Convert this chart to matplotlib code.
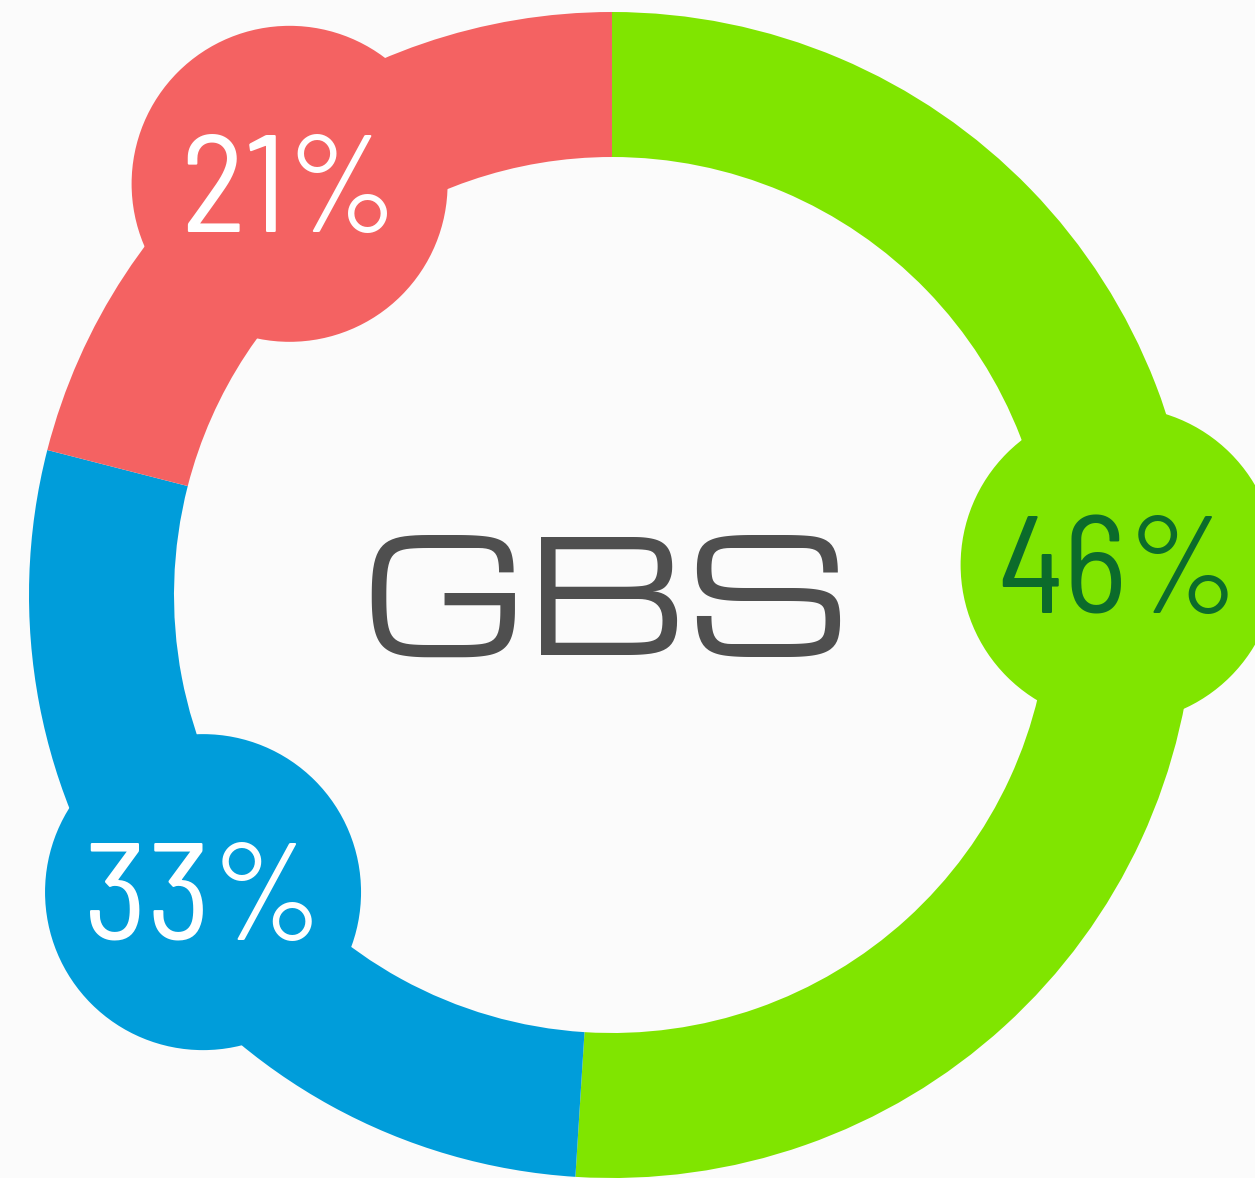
import numpy as np
import matplotlib
matplotlib.use('Agg')
import matplotlib.pyplot as plt
from matplotlib.patches import Circle

# arc shares as drawn, and the labels printed in the bubbles
shares = [51, 28, 21]
labels = ['46%', '33%', '21%']
colors = ['#80E500', '#009DDA', '#F46262']
text_colors = ['#0B6B2B', 'white', 'white']
center_label = 'GBS'

W, H = 1255, 1178
fig = plt.figure(figsize=(W / 100, H / 100), dpi=100)
fig.patch.set_facecolor('#fbfbfb')
ax = fig.add_axes([0, 0, 1, 1])
ax.set_facecolor('#fbfbfb')

cx, cy = 612, 583
r_out, ring = 583, 145
bubble_r = 158

wedges, _ = ax.pie(shares, colors=colors, startangle=90, counterclock=False,
                   radius=r_out, center=(cx, cy),
                   wedgeprops=dict(width=ring, linewidth=0))

# bubbles sit near the middle of their arc, slightly nudged (degrees, px)
nudge_ang = [5.2, 0, 0.3]
nudge_rad = [-3, -5, 12]
r_mid = r_out - ring / 2
px = 100 / 72  # pixels per point
pct_size = 99
for w, lab, col, tcol, da, dr in zip(wedges, labels, colors, text_colors, nudge_ang, nudge_rad):
    a = np.deg2rad((w.theta1 + w.theta2) / 2 + da)
    bx, by = cx + (r_mid + dr) * np.cos(a), cy + (r_mid + dr) * np.sin(a)
    ax.add_patch(Circle((bx, by), bubble_r, facecolor=col, edgecolor='none', zorder=3))
    ax.text(bx, by - 0.70 * pct_size * px / 2, lab, ha='center', va='baseline',
            fontsize=pct_size, color=tcol,
            family=['Barlow Semi Condensed', 'Open Sans', 'DejaVu Sans'],
            fontstretch='condensed', fontweight='normal', zorder=4)

gbs_size = 112
ax.text(cx - 7, cy - 3 - 0.729 * gbs_size * px / 2, center_label, ha='center', va='baseline',
        fontsize=gbs_size, color='#4f4f4f', family=['Michroma', 'DejaVu Sans'], zorder=4)

ax.set_xlim(0, W)
ax.set_ylim(0, H)
ax.set_aspect('equal')
ax.axis('off')

fig.savefig('out.png', dpi=100, facecolor=fig.get_facecolor())
